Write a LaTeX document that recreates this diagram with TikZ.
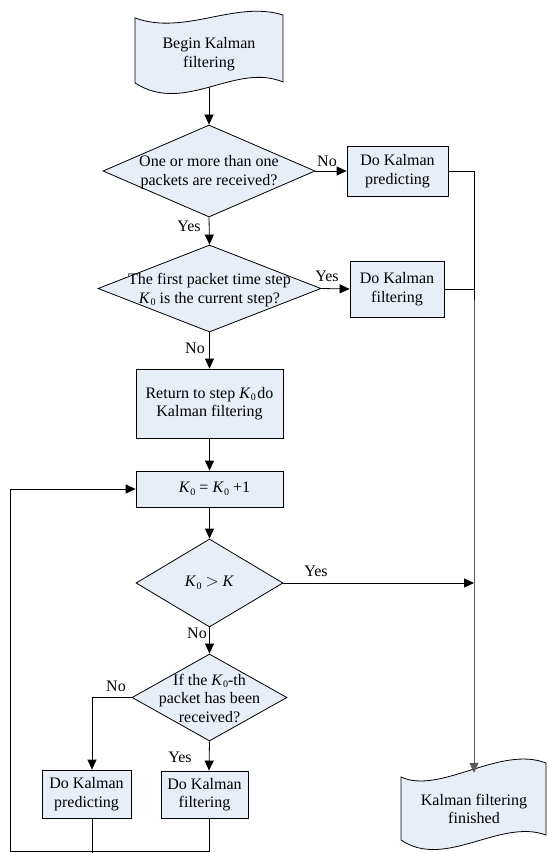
\documentclass[tikz,border=0pt]{standalone}
\usepackage{fontspec}
\setmainfont{Liberation Serif}
\usetikzlibrary{arrows.meta,shapes.geometric,calc}
\newcommand{\Kz}{\textit{K}\kern0.3pt\raisebox{-0.35ex}{\fontsize{10}{10}\selectfont 0}}
\definecolor{fillblue}{RGB}{232,238,247}
\definecolor{linegray}{RGB}{90,90,90}
\tikzset{
  base/.style={font=\fontsize{16}{18.5}\selectfont, align=center, inner sep=0pt},
  procbox/.style={base, draw=black, fill=fillblue, line width=0.8pt, rectangle},
  dia/.style={draw=black, fill=fillblue, line width=0.8pt, diamond, inner sep=0pt},
  txt/.style={base},
  lbl/.style={font=\fontsize{16}{18}\selectfont, inner sep=0pt},
  conn/.style={line width=0.8pt, draw=black},
  arr/.style={conn, -{Triangle[length=10pt,width=9pt]}},
  banner/.style={draw=black, fill=fillblue, line width=0.8pt},
}
\begin{document}
\begin{tikzpicture}[x=1pt,y=-1pt]
\path[use as bounding box] (0,0) rectangle (547,853);

% begin banner
\draw[banner] (135,18) .. controls (185,36) and (235,0) .. (283,15)
  -- (283,82) .. controls (235,62) and (185,115) .. (135,83) -- cycle;
\node[txt, minimum width=148pt, minimum height=68pt] (begin) at (209,54) {Begin Kalman\\filtering};

% end banner
\draw[banner] (401,777) .. controls (440,795) and (500,745) .. (546,763)
  -- (546,835) .. controls (500,818) and (445,870) .. (401,840) -- cycle;
\node[txt, minimum width=146pt, minimum height=72pt] (end) at (474,809) {Kalman filtering\\finished};

% diamonds
\node[dia, minimum width=212pt, minimum height=92pt] (d1) at (209,171) {};
\node[txt] (d1t) at (209,172) {One or more than one\\packets are received?};
\node[dia, minimum width=223pt, minimum height=87pt] (d2) at (209.5,288.5) {};
\node[txt] (d2t) at (209.5,290) {The first packet time step\\\Kz\ is the current step?};
\node[dia, minimum width=147pt, minimum height=88pt] (d3) at (209.5,583) {};
\node[txt] (d3t) at (209.5,583) {\Kz\ $>$ \textit{K}};
\node[dia, minimum width=155pt, minimum height=87pt] (d4) at (209.5,697.5) {};
\node[txt] (d4t) at (209.5,698) {If the \Kz-th\\packet has been\\received?};

% boxes
\node[procbox, minimum width=101pt, minimum height=50pt] (pred1) at (397.5,171) {Do Kalman\\predicting};
\node[procbox, minimum width=94pt, minimum height=56pt] (filt1) at (397,289) {Do Kalman\\filtering};
\node[procbox, minimum width=147pt, minimum height=69pt] (ret) at (209.5,403.5) {Return to step \Kz\kern1.5pt do\\Kalman filtering};
\node[procbox, minimum width=147pt, minimum height=36pt] (inc) at (209.5,489) {\hspace{10pt}\Kz\ = \Kz\ +1};
\node[procbox, minimum width=89pt, minimum height=48pt] (pred2) at (86.5,794) {Do Kalman\\predicting};
\node[procbox, minimum width=87pt, minimum height=47pt] (filt2) at (204.5,794.5) {Do Kalman\\filtering};

% connectors
\draw[arr] (209,87) -- (d1.north);
\draw[arr] (d1.east) -- (pred1.west);
\draw[arr] (d1.south) -- (d2.north);
\draw[arr] (d2.east) -- (filt1.west);
\draw[arr] (d2.south) -- (ret.north);
\draw[arr] (ret.south) -- (inc.north);
\draw[arr] (inc.south) -- (d3.north);
\draw[arr] (d4.west) -| ([xshift=5.5pt]pred2.north);
\draw[arr] (d4.south) -- ([xshift=4.5pt]filt2.north);
\draw[arr] (d3.south) -- (d4.north);

% right side
\draw[conn] (pred1.east) -| (474,300);
\draw[conn] (filt1.east) -- (filt1.east -| end.north);
\draw[arr, draw=linegray] (474,300) -- (end.north);
\draw[arr] (d3.east) -- (d3.east -| end.north);

% loop
\coordinate (lb) at (10,851);
\coordinate (pb) at (92,853);
\draw[conn] ([xshift=4.5pt]filt2.south) |- (lb);
\draw[arr] (lb) |- (inc.west);
\draw[conn] ([xshift=5.5pt]pred2.south) -- (pb);

% labels
\node[lbl] (l1) at (327,161) {No};
\node[lbl] (l2) at (189,226) {Yes};
\node[lbl] (l3) at (327,276) {Yes};
\node[lbl] (l4) at (195,348) {No};
\node[lbl] (l5) at (316,571) {Yes};
\node[lbl] (l6) at (197,633) {No};
\node[lbl] (l7) at (116,686) {No};
\node[lbl] (l8) at (180,757) {Yes};
\end{tikzpicture}
\end{document}
